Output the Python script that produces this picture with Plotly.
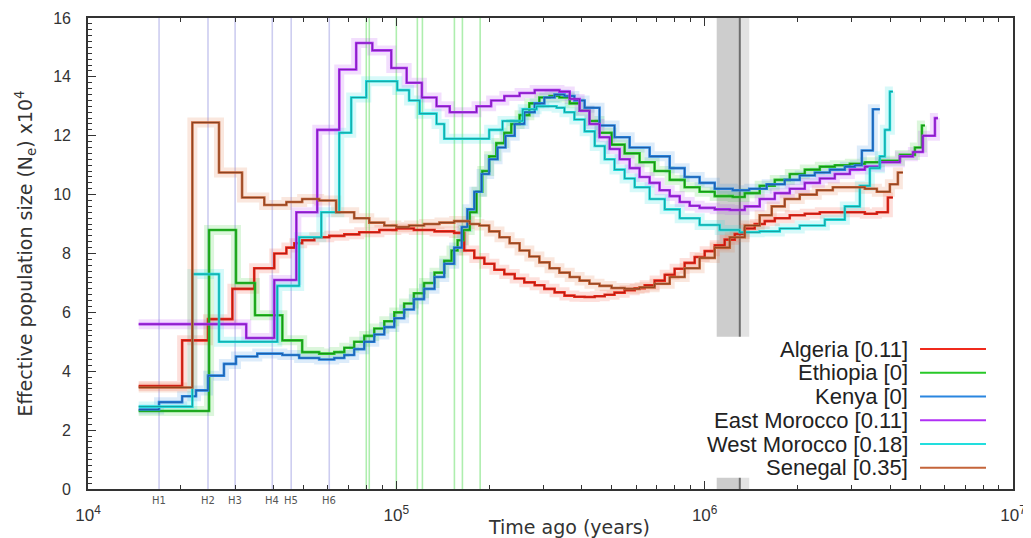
import plotly.graph_objects as go
import numpy as np

# ---------------- data (time in years, Ne in units of 10^4) ----------------
algeria_x = [14600, 20200, 24500, 29400, 34600, 40200, 44000, 46700, 49500, 54200,
             60600, 67800, 75800, 88100, 100000, 114000, 133000, 154000, 166000, 179000,
             193000, 208000, 224000, 242000, 260000, 281000, 302000, 326000, 351000, 378000,
             408000, 440000, 474000, 510000, 550000, 593000, 639000, 688000, 742000, 799000,
             861000, 928000, 1000000, 1078000, 1161000, 1252000, 1349000, 1453000, 1566000, 1688000,
             1888000, 2112000, 2363000, 2643000, 2957000, 3307000, 3618000, 3928000, 4078000]
algeria_y = [3.5, 5.05, 5.77, 6.8, 7.5, 8.0, 8.2, 8.35, 8.45, 8.55,
             8.6, 8.65, 8.72, 8.8, 8.85, 8.8, 8.75, 8.7, 8.1, 7.85,
             7.65, 7.45, 7.3, 7.15, 7.02, 6.92, 6.8, 6.68, 6.57, 6.53,
             6.52, 6.55, 6.6, 6.67, 6.75, 6.82, 6.92, 7.08, 7.28, 7.48,
             7.68, 7.88, 8.08, 8.28, 8.47, 8.66, 8.85, 9.0, 9.1, 9.2,
             9.3, 9.35, 9.4, 9.4, 9.4, 9.35, 9.4, 9.9, 9.9]

ethiopia_x = [14600, 24700, 30200, 34800, 42700, 49500, 56200, 62900, 67800, 73000,
              78700, 84800, 91400, 98500, 106000, 114000, 123000, 133000, 143000, 151000,
              158000, 165000, 173000, 182000, 190000, 200000, 211000, 224000, 236000, 251000,
              270000, 291000, 314000, 338000, 365000, 393000, 423000, 456000, 499000, 550000,
              615000, 688000, 770000, 861000, 963000, 1078000, 1233000, 1349000, 1508000, 1688000,
              1888000, 2112000, 2363000, 2643000, 2957000, 3307000, 3700000, 4297000, 4807000, 5065000,
              5180000]
ethiopia_y = [2.65, 8.8, 7.0, 5.9, 5.05, 4.65, 4.6, 4.65, 4.8, 5.0,
              5.2, 5.45, 5.7, 6.0, 6.3, 6.65, 7.0, 7.35, 7.75, 8.1,
              8.45, 8.8, 9.4, 10.1, 10.8, 11.3, 11.75, 12.1, 12.4, 12.7,
              13.1, 13.3, 13.35, 13.3, 13.1, 12.85, 12.5, 12.1, 11.7, 11.4,
              11.1, 10.8, 10.5, 10.25, 10.1, 9.95, 9.92, 10.05, 10.3, 10.5,
              10.7, 10.85, 10.95, 11.0, 11.05, 11.1, 11.15, 11.35, 11.6, 12.35,
              12.35]

kenya_x = [14600, 17000, 20200, 22400, 24500, 27600, 30200, 35400, 42700, 48400,
           56200, 62900, 67800, 73000, 78700, 84800, 91400, 98500, 106000, 114000,
           123000, 133000, 143000, 154000, 163000, 170000, 179000, 189000, 200000, 213000,
           226000, 242000, 260000, 281000, 302000, 326000, 351000, 378000, 408000, 456000,
           510000, 571000, 663000, 770000, 861000, 963000, 1078000, 1233000, 1395000, 1589000,
           1818000, 2034000, 2276000, 2546000, 2848000, 3069000, 3234000, 3511000, 3700000]
kenya_y = [2.7, 2.95, 3.15, 3.35, 3.85, 4.25, 4.5, 4.6, 4.55, 4.45,
           4.4, 4.45, 4.55, 4.75, 5.0, 5.25, 5.5, 5.8, 6.1, 6.45,
           6.8, 7.2, 7.65, 8.2, 8.9, 9.5, 10.1, 10.7, 11.2, 11.6,
           12.0, 12.4, 12.8, 13.1, 13.3, 13.4, 13.35, 13.2, 12.95, 12.35,
           11.95, 11.6, 11.3, 10.9, 10.6, 10.4, 10.2, 10.15, 10.2, 10.35,
           10.5, 10.65, 10.75, 10.85, 10.95, 11.0, 11.5, 12.9, 12.9]

emorocco_x = [14600, 32600, 40200, 47400, 55400, 65300, 74100, 83600, 96300, 108000,
              121000, 135000, 149000, 182000, 203000, 224000, 251000, 281000, 314000, 338000,
              365000, 393000, 423000, 456000, 492000, 530000, 571000, 615000, 663000, 714000,
              770000, 830000, 894000, 963000, 1078000, 1206000, 1349000, 1508000, 1688000, 1888000,
              2112000, 2363000, 2643000, 2957000, 3307000, 3700000, 4297000, 4736000, 5102000, 5582000,
              5709000]
emorocco_y = [5.6, 5.13, 7.1, 9.4, 12.2, 14.25, 15.15, 14.9, 14.3, 13.8,
              13.3, 13.0, 12.8, 13.0, 13.2, 13.35, 13.45, 13.55, 13.55, 13.5,
              13.25, 12.85, 12.4, 11.95, 11.55, 11.2, 10.9, 10.6, 10.4, 10.15,
              9.95, 9.75, 9.62, 9.55, 9.5, 9.48, 9.6, 9.85, 10.05, 10.2,
              10.4, 10.55, 10.7, 10.85, 10.95, 11.1, 11.3, 11.45, 12.0, 12.6,
              12.6]

wmorocco_x = [14600, 21800, 26600, 41100, 48400, 57100, 65300, 71400, 79900, 100700,
              110000, 119000, 135000, 143000, 200000, 221000, 257000, 285000, 331000, 351000,
              378000, 408000, 440000, 474000, 510000, 550000, 593000, 663000, 742000, 830000,
              963000, 1119000, 1299000, 1508000, 1752000, 2034000, 2453000, 2848000, 3186000, 3433000,
              3700000, 3841000, 3987000, 4078000]
wmorocco_y = [2.8, 7.3, 5.0, 6.9, 8.55, 9.4, 12.1, 13.3, 13.85, 13.55,
              13.2, 12.75, 12.4, 11.9, 12.2, 12.5, 12.9, 13.0, 12.95, 12.8,
              12.55, 12.15, 11.65, 11.2, 10.85, 10.55, 10.25, 9.85, 9.5, 9.2,
              8.97, 8.8, 8.72, 8.75, 8.85, 8.95, 9.15, 9.6, 10.3, 10.9,
              11.3, 12.2, 13.5, 13.5]

senegal_x = [14600, 21800, 26600, 31600, 37300, 44000, 49500, 56200, 63800, 73000,
             81700, 91400, 100000, 110000, 123000, 138000, 154000, 173000, 186000, 200000,
             216000, 233000, 251000, 270000, 291000, 314000, 338000, 365000, 393000, 423000,
             456000, 499000, 550000, 615000, 688000, 770000, 861000, 963000, 1078000, 1206000,
             1349000, 1508000, 1650000, 1818000, 2034000, 2310000, 2604000, 2957000, 3307000, 3618000,
             3987000, 4233000, 4395000]
senegal_y = [3.45, 12.45, 10.75, 9.9, 9.65, 9.75, 9.85, 9.8, 9.4, 9.2,
             9.05, 8.95, 8.9, 8.95, 9.0, 9.05, 9.1, 9.0, 8.95, 8.75,
             8.55, 8.35, 8.1, 7.9, 7.7, 7.5, 7.35, 7.2, 7.08, 6.97,
             6.9, 6.83, 6.8, 6.85, 6.97, 7.2, 7.5, 7.85, 8.2, 8.55,
             8.95, 9.3, 9.6, 9.85, 10.0, 10.15, 10.25, 10.25, 10.2, 10.1,
             10.35, 10.75, 10.75]

series_names = ["Algeria [0.11]", "Ethiopia [0]", "Kenya [0]",
                "East Morocco [0.11]", "West Morocco [0.18]", "Senegal [0.35]"]

# event lines (years)
h_times = [17000, 24500, 30000, 39600, 45600, 60600]
h_labels = ["H1", "H2", "H3", "H4", "H5", "H6"]
green_times = [79900, 81700, 100000, 117000, 121500, 154300, 163800, 187000]
band_left = 1094000
band_mid = 1300000
band_right = 1395000

y_range = [0, 16]
x_tickvals = [1e4, 1e5, 1e6, 1e7]
x_ticktext = ["10<sup>4</sup>", "10<sup>5</sup>", "10<sup>6</sup>", "10<sup>7</sup>"]
y_tickvals = [0, 2, 4, 6, 8, 10, 12, 14, 16]

# ---------------- styling ----------------
colors = ["#f02a1c", "#28c828", "#2a86e0", "#b030f5", "#22dede", "#c4643a"]
cores = ["#a01a12", "#157a15", "#1c4f95", "#6c1c9c", "#138a8a", "#7a3818"]
halo = ["rgba(240,60,40,0.16)", "rgba(40,200,40,0.16)", "rgba(42,134,224,0.16)",
        "rgba(176,48,245,0.16)", "rgba(34,222,222,0.18)", "rgba(230,120,70,0.18)"]

fig = go.Figure()

# grey interval band
fig.add_trace(go.Scatter(x=[band_left, band_mid, band_mid, band_left, band_left],
                         y=[y_range[0], y_range[0], y_range[1], y_range[1], y_range[0]],
                         mode="lines", fill="toself", fillcolor="#cdcdcd",
                         line=dict(width=0), hoverinfo="skip", showlegend=False))
fig.add_trace(go.Scatter(x=[band_mid, band_right, band_right, band_mid, band_mid],
                         y=[y_range[0], y_range[0], y_range[1], y_range[1], y_range[0]],
                         mode="lines", fill="toself", fillcolor="#e2e2e2",
                         line=dict(width=0), hoverinfo="skip", showlegend=False))
fig.add_trace(go.Scatter(x=[band_mid, band_mid], y=y_range, mode="lines",
                         line=dict(color="#6e6e6e", width=2), hoverinfo="skip", showlegend=False))

# H lines and green lines
def vlines(vals):
    xs, ys = [], []
    for v in vals:
        xs += [v, v, None]
        ys += [y_range[0], y_range[1], None]
    return xs, ys

hx, hy = vlines(h_times)
fig.add_trace(go.Scatter(x=hx, y=hy, mode="lines", line=dict(color="#cdcdf0", width=1.6),
                         hoverinfo="skip", showlegend=False))
gx, gy = vlines(green_times)
fig.add_trace(go.Scatter(x=gx, y=gy, mode="lines", line=dict(color="#aeeeae", width=1.6),
                         hoverinfo="skip", showlegend=False))

all_x = [algeria_x, ethiopia_x, kenya_x, emorocco_x, wmorocco_x, senegal_x]
all_y = [algeria_y, ethiopia_y, kenya_y, emorocco_y, wmorocco_y, senegal_y]

for i in range(6):
    fig.add_trace(go.Scatter(x=all_x[i], y=all_y[i], mode="lines", line_shape="hv",
                             line=dict(color=halo[i], width=10), hoverinfo="skip", showlegend=False))
for i in range(6):
    fig.add_trace(go.Scatter(x=all_x[i], y=all_y[i], mode="lines", line_shape="hv",
                             line=dict(color=colors[i], width=2.6), name=series_names[i], showlegend=False))
    fig.add_trace(go.Scatter(x=all_x[i], y=all_y[i], mode="lines", line_shape="hv",
                             line=dict(color=cores[i], width=0.8), hoverinfo="skip", showlegend=False))

# ---------------- layout ----------------
shapes = []
annotations = []

# legend (custom, text on the left of the line sample)
shapes.append(dict(type="rect", xref="paper", yref="paper", x0=0.648, x1=0.99, y0=0.024, y1=0.323,
                   fillcolor="white", line=dict(width=0), layer="above"))
leg_top = 0.297
leg_step = 0.0504
for i, name in enumerate(series_names):
    yy = leg_top - i * leg_step
    annotations.append(dict(xref="paper", yref="paper", x=0.889, y=yy, xanchor="right", yanchor="middle",
                            text=name, showarrow=False,
                            font=dict(family="Liberation Sans, Arial", size=22, color="#222222")))
    shapes.append(dict(type="line", xref="paper", yref="paper", x0=0.8995, x1=0.9708, y0=yy, y1=yy,
                       line=dict(color=colors[i], width=2), layer="above"))

for t, lab in zip(h_times, h_labels):
    annotations.append(dict(xref="x", yref="paper", x=np.log10(t), y=-0.024, xanchor="center",
                            yanchor="middle", text=lab, showarrow=False,
                            font=dict(family="DejaVu Sans", size=10, color="#555555")))

annotations.append(dict(xref="paper", yref="paper", x=0.52, y=-0.081, xanchor="center", yanchor="middle",
                        text="Time ago (years)", showarrow=False,
                        font=dict(family="DejaVu Sans", size=19, color="#333333")))

# the page body adds an 8px offset, so the figure is 8px smaller on each axis
fig.update_layout(
    width=1023, height=530,
    margin=dict(l=80, r=18, t=10, b=49, autoexpand=False),
    paper_bgcolor="white", plot_bgcolor="white",
    showlegend=False,
    shapes=shapes, annotations=annotations,
    xaxis=dict(type="log", range=[4, 7], tickvals=x_tickvals, ticktext=x_ticktext,
               ticks="inside", ticklen=8, tickwidth=1.2, tickcolor="#333333",
               showline=True, linecolor="#333333", linewidth=1.6, mirror="ticks",
               showgrid=False, zeroline=False, ticklabelstandoff=10,
               minor=dict(ticks="inside", ticklen=4, tickcolor="#333333", dtick="D1", showgrid=False),
               tickfont=dict(family="Liberation Sans, Arial", size=17, color="#333333")),
    yaxis=dict(range=y_range, tickvals=y_tickvals, ticks="inside", ticklen=8, tickwidth=1.2,
               tickcolor="#333333", showline=True, linecolor="#333333", linewidth=1.6, mirror=True,
               showgrid=False, zeroline=False, ticklabelstandoff=12,
               minor=dict(ticks="inside", ticklen=4, tickcolor="#333333", dtick=0.2, showgrid=False),
               tickfont=dict(family="Liberation Sans, Arial", size=16, color="#333333"),
               title=dict(text="Effective population size (N<sub>e</sub>) x10<sup>4</sup>",
                          standoff=16,
                          font=dict(family="DejaVu Sans", size=19, color="#333333"))),
)

fig.write_html("out.html")
